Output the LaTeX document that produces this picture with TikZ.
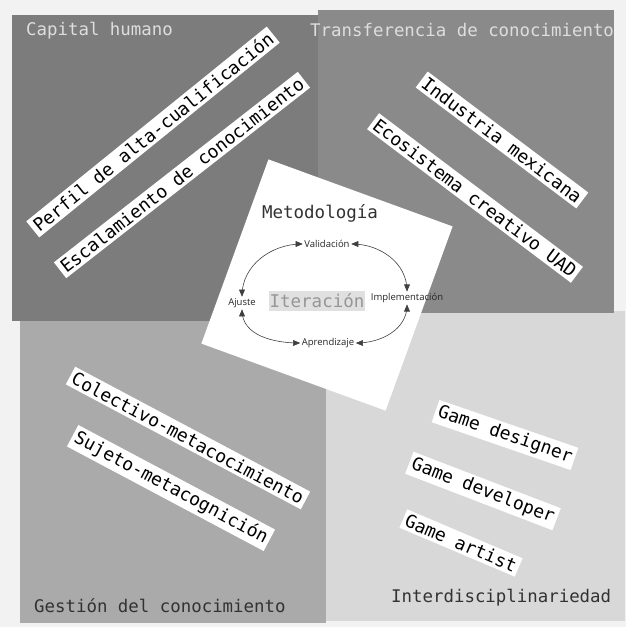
\documentclass[tikz,border=0pt]{standalone}
\usepackage{fontspec}
\setmainfont{DejaVu Sans Mono}
\newfontfamily\mycyclefont{Open Sans}
\usetikzlibrary{arrows,positioning}
\definecolor{mybg}{RGB}{242,242,242}
\definecolor{mydarkleft}{RGB}{124,124,124}
\definecolor{mydarkright}{RGB}{138,138,138}
\definecolor{mymid}{RGB}{170,170,170}
\definecolor{mylight}{RGB}{216,216,216}
\definecolor{mytitlelight}{RGB}{222,222,222}
\definecolor{mytitledark}{RGB}{50,50,50}
\definecolor{myiter}{RGB}{224,224,224}
\definecolor{myitertext}{RGB}{150,150,150}

\begin{document}
\begin{tikzpicture}[
  x=1pt, y=-1pt,
  >=triangle 45,
  mylabel/.style={
    fill=white,
    inner sep=3pt,
    text=black,
    font=\fontsize{18}{20}\selectfont
    },
  mytitle/.style={
    anchor=west,
    inner sep=0pt,
    text=#1,
    font=\fontsize{17.4}{20}\selectfont
    },
  mystep/.style={
    inner sep=1.5pt,
    text=black!85,
    font=\mycyclefont\fontsize{9.5}{10}\selectfont
    },
  mycycle/.style={
    <->,
    line width=0.6pt,
    black!75
  }
]

\fill[mybg] (0,0) rectangle (626,627);
\fill[mylight] (325,311) rectangle (625,621);
\fill[mymid] (20,320) rectangle (326,623);
\fill[mydarkleft] (12,15) rectangle (322,321);
\fill[mydarkright] (318,10) rectangle (614,313);

\node[mytitle=mytitlelight] (capital) at (26,31) {Capital humano};
\node[mytitle=mytitlelight] (transfer) at (310,30) {Transferencia de conocimiento};
\node[mytitle=mytitledark] (gestion) at (34,606) {Gestión del conocimiento};
\node[mytitle=mytitledark] (interdis) at (391,598) {Interdisciplinariedad};

\node[mylabel, rotate=39] (perfil) at (153,132) {Perfil de alta-cualificación};
\node[mylabel, rotate=38] (escala) at (182,175) {Escalamiento de conocimiento};
\node[mylabel, rotate=-37] (industria) at (502,140) {Industria mexicana};
\node[mylabel, rotate=-37] (ecosis) at (475,198) {Ecosistema creativo UAD};
\node[mylabel, rotate=-28] (colect) at (188,438) {Colectivo-metacocimiento};
\node[mylabel, rotate=-28] (sujeto) at (171,488) {Sujeto-metacognición};
\node[mylabel, rotate=-19] (designer) at (505,435) {Game designer};
\node[mylabel, rotate=-21] (developer) at (483,491) {Game developer};
\node[mylabel, rotate=-23] (artist) at (461,543) {Game artist};

\node[fill=white, minimum size=196pt, rotate=-20] (metodo) at (327,285) {};

\node[text=mytitledark, font=\fontsize{17.5}{20}\selectfont] (metodol) at (320,213) {Metodología};
\node[fill=myiter, text=myitertext, inner xsep=1pt, inner ysep=2.5pt, font=\fontsize{17.5}{20}\selectfont] (iter) at (317,301) {Iteración};

\node[mystep] (valid) at (327,244) {Validación};
\node[mystep] (ajuste) at (242,303) {Ajuste};
\node[mystep] (implem) at (407,298) {Implementación};
\node[mystep] (aprend) at (328,343) {Aprendizaje};

\draw[mycycle] (ajuste.north) to[out=90, in=180] (valid.west);
\draw[mycycle] (valid.east) to[out=0, in=90] (implem.north);
\draw[mycycle] (implem.south) to[out=-90, in=0] (aprend.east);
\draw[mycycle] (ajuste.south) to[out=-90, in=180] (aprend.west);

\end{tikzpicture}
\end{document}
